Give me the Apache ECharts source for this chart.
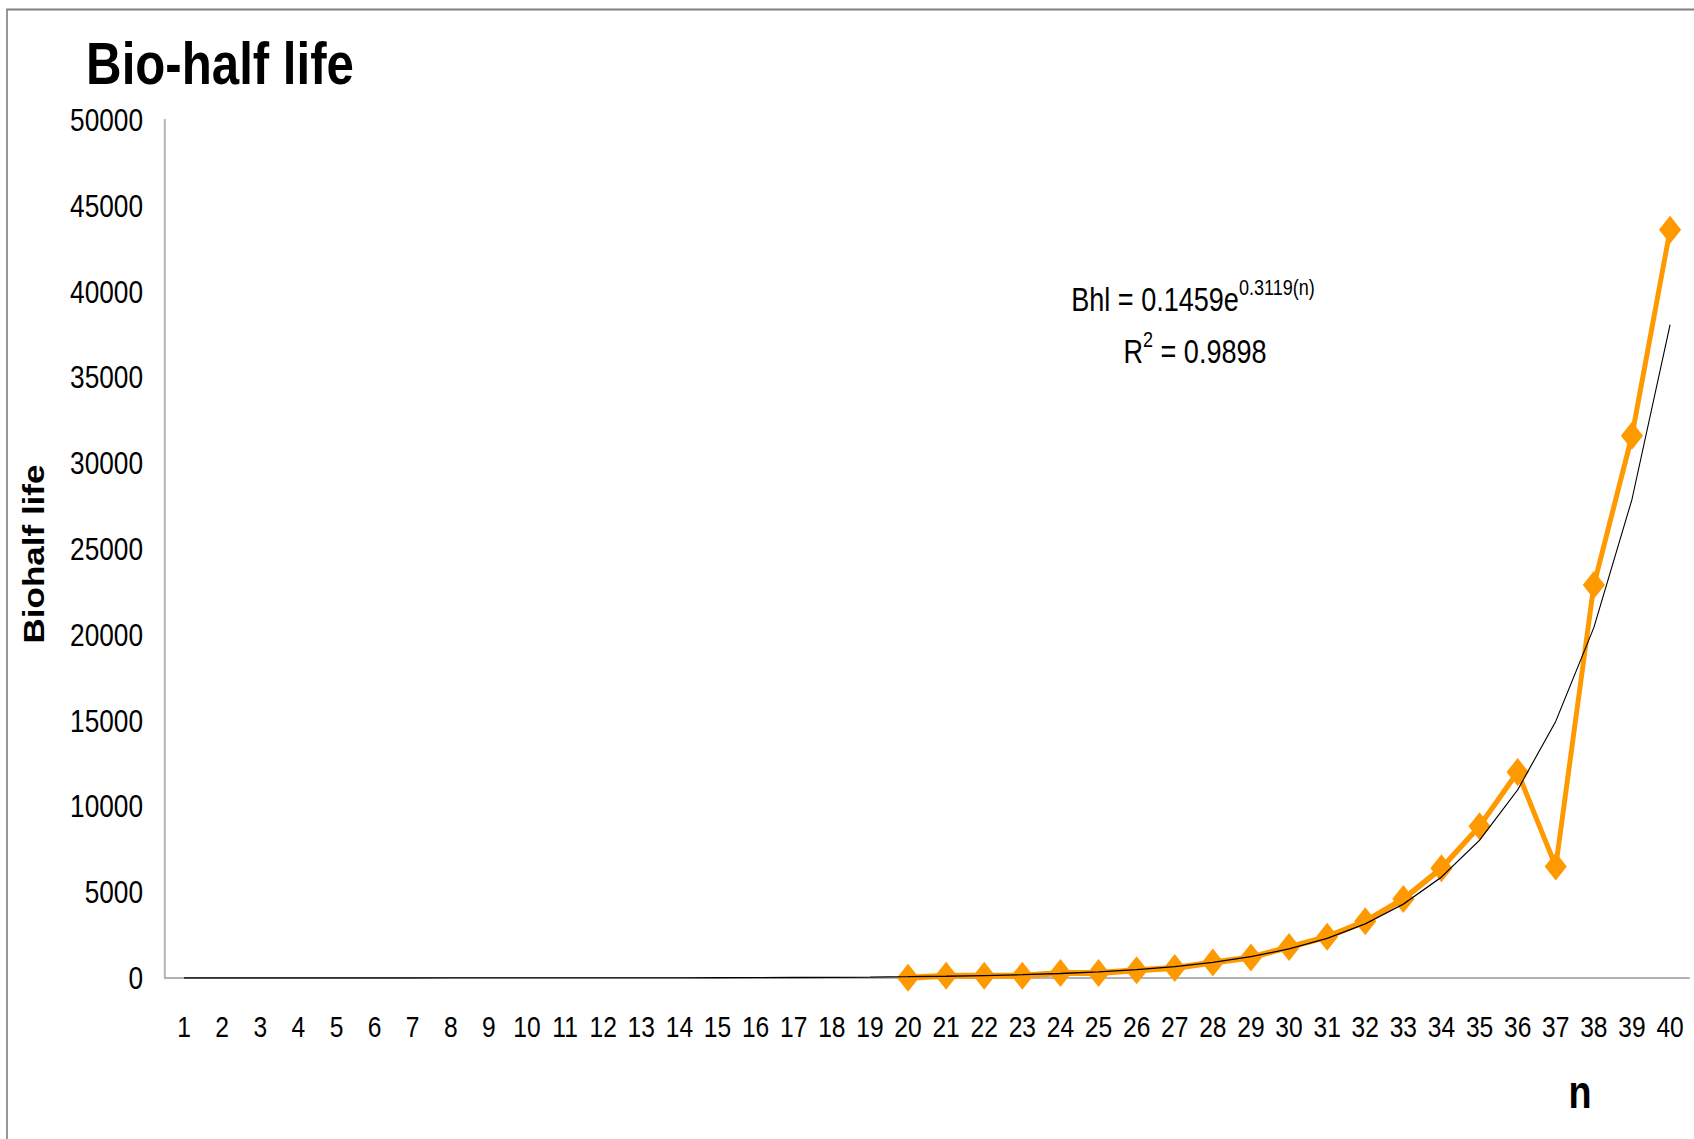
<!DOCTYPE html>
<html>
<head>
<meta charset="utf-8">
<title>Bio-half life</title>
<script src="https://cdn.jsdelivr.net/npm/echarts@6/dist/echarts.min.js"></script>
<style>
  html, body { margin: 0; padding: 0; background: #ffffff; overflow: hidden; }
  /* The chart is laid out wider and squeezed horizontally so the
     sans-serif text takes on a narrow (condensed) face. */
  #chart {
    width: 2066px;
    height: 1139px;
    transform: scaleX(0.82);
    transform-origin: 0 0;
  }
</style>
</head>
<body>
<div id="chart"></div>
<script>
// Horizontal squeeze applied to the chart container
const SQUEEZE = 0.82;
const sx = v => v / SQUEEZE;   // screen x -> chart x

// Category axis: chain length n = 1 .. 40
const nValues = ['1','2','3','4','5','6','7','8','9','10','11','12','13','14','15','16','17','18','19','20',
                 '21','22','23','24','25','26','27','28','29','30','31','32','33','34','35','36','37','38','39','40'];

// Measured bio-half life (only n = 20 .. 40 have data)
const bioHalfLife = [null,null,null,null,null,null,null,null,null,null,
                     null,null,null,null,null,null,null,null,null,
                     20, 130, 130, 130, 290, 290, 450, 580, 900, 1200, 1800,
                     2400, 3300, 4600, 6400, 8850, 12000, 6500, 22900, 31600, 43600];

// Exponential trendline values across the whole axis
const trendline = [0, 0, 0, 1, 1, 1, 1, 2, 2, 3,
                   5, 6, 8, 11, 16, 21, 29, 40, 55, 75,
                   102, 140, 191, 261, 357, 487, 665, 908, 1240, 1693,
                   2311, 3155, 4307, 5880, 8028, 10960, 14960, 20430, 27890, 38070];

// Y axis ticks
const yMin = 0, yMax = 50000, yStep = 5000;

// Trendline annotation
const equationText = '{m|Bhl = 0.1459e}{s|0.3119(n)}';
const r2Text = '{m|R}{s|2}{m| = 0.9898}';

const font = '"Liberation Sans", Arial, Helvetica, sans-serif';

const chart = echarts.init(document.getElementById('chart'), null, { renderer: 'svg' });

const richParts = {
  m: { fontFamily: font, fontSize: 33, color: '#000000', verticalAlign: 'bottom', lineHeight: 40 },
  s: { fontFamily: font, fontSize: 22, color: '#000000', verticalAlign: 'top', lineHeight: 40, padding: [0, 0, 16, 0] }
};

chart.setOption({
  backgroundColor: '#ffffff',
  animation: false,
  title: {
    text: 'Bio-half life',
    left: sx(82),
    top: 28,
    textStyle: { fontFamily: font, fontWeight: 'bold', fontSize: 60, color: '#000000' }
  },
  grid: {
    left: sx(165), right: sx(5), top: 120, bottom: 161,
    containLabel: false,
    outerBoundsMode: 'none'
  },
  xAxis: {
    type: 'category',
    data: nValues,
    boundaryGap: true,
    axisLine: { lineStyle: { color: '#b3b3b3', width: 2 } },
    axisTick: { show: false },
    axisLabel: { interval: 0, margin: 34, fontFamily: font, fontSize: 30, color: '#000000' },
    splitLine: { show: false }
  },
  yAxis: {
    type: 'value',
    min: yMin,
    max: yMax,
    interval: yStep,
    name: 'Biohalf life',
    nameLocation: 'middle',
    nameGap: sx(165) - sx(48),
    nameRotate: 90,
    nameTextStyle: {
      fontFamily: font, fontWeight: 'bold', fontSize: 35, color: '#000000',
      padding: [0, 10, 0, 0]
    },
    axisLine: { show: true, lineStyle: { color: '#b3b3b3', width: 2.4 } },
    axisTick: { show: false },
    axisLabel: {
      margin: sx(22),
      fontFamily: font, fontSize: 32, color: '#000000',
      formatter: v => String(v)
    },
    splitLine: { show: false }
  },
  series: [
    {
      name: 'Bio-half life',
      type: 'line',
      data: bioHalfLife,
      connectNulls: false,
      symbol: 'diamond',
      symbolSize: [27, 28],
      itemStyle: { color: '#ff9900' },
      lineStyle: { color: '#ff9900', width: 6 },
      z: 2
    },
    {
      name: 'Trend',
      type: 'line',
      data: trendline,
      symbol: 'none',
      smooth: false,
      lineStyle: { color: '#000000', width: 1.3 },
      z: 3
    }
  ],
  graphic: [
    {
      type: 'rect',
      shape: { x: sx(7), y: 9.5, width: 2200, height: 1200 },
      style: { fill: 'none', stroke: '#808080', lineWidth: 2 },
      z: 0
    },
    {
      type: 'text',
      x: sx(1193),
      y: 276,
      style: { text: equationText, align: 'center', rich: richParts },
      z: 10
    },
    {
      type: 'text',
      x: sx(1195),
      y: 328,
      style: { text: r2Text, align: 'center', rich: richParts },
      z: 10
    },
    {
      // x-axis title
      type: 'text',
      x: sx(1580),
      y: 1092,
      style: {
        text: 'n',
        align: 'center',
        verticalAlign: 'middle',
        fontFamily: font, fontWeight: 'bold', fontSize: 46, fill: '#000000'
      },
      z: 10
    }
  ]
});
</script>
</body>
</html>
